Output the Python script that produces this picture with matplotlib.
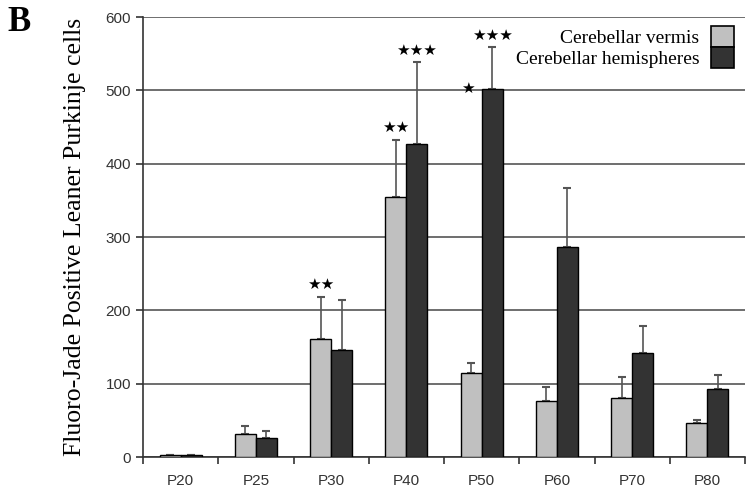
import matplotlib
matplotlib.use("Agg")
import matplotlib.pyplot as plt
from matplotlib.patches import Patch
import numpy as np

categories = ["P20", "P25", "P30", "P40", "P50", "P60", "P70", "P80"]
vermis = [3, 31, 161, 355, 115, 76, 80, 46]
vermis_err = [0, 11, 57, 77, 13, 19, 29, 4]
hemispheres = [3, 26, 146, 427, 502, 287, 142, 93]
hemispheres_err = [0, 9, 68, 112, 57, 80, 37, 19]
vermis_stars = [0, 0, 2, 2, 1, 0, 0, 0]
hemi_stars = [0, 0, 0, 3, 3, 0, 0, 0]

fig = plt.figure(figsize=(7.46, 4.96), dpi=100)
ax = fig.add_axes([0.1917, 0.0786, 0.8070, 0.8871])

x = np.arange(len(categories))
w = 0.28
light = "#c0c0c0"
dark = "#333333"

ax.set_axisbelow(True)
ax.yaxis.grid(True, color="#555555", linewidth=1.2)
ax.bar(x - w / 2, vermis, w, color=light, edgecolor="black", linewidth=1.0, zorder=3)
ax.bar(x + w / 2, hemispheres, w, color=dark, edgecolor="black", linewidth=1.0, zorder=3)
ax.errorbar(x - w / 2, vermis, yerr=[np.zeros(len(x)), vermis_err], fmt="none",
            ecolor="#555555", elinewidth=1.2, capsize=3, capthick=1.5, zorder=2)
ax.errorbar(x + w / 2, hemispheres, yerr=[np.zeros(len(x)), hemispheres_err], fmt="none",
            ecolor="#555555", elinewidth=1.2, capsize=3, capthick=1.5, zorder=2)

star_kw = dict(fontfamily="DejaVu Sans", fontsize=11, color="black", ha="center", va="center")
for i, n in enumerate(vermis_stars):
    if n == 1:
        ax.text(x[i] - w / 2 - 0.04, hemispheres[i], "\u2605", **star_kw)
    elif n > 1:
        ax.text(x[i] - w / 2, vermis[i] + vermis_err[i] + 17, "\u2605" * n, **star_kw)
for i, n in enumerate(hemi_stars):
    if n:
        ax.text(x[i] + w / 2, hemispheres[i] + hemispheres_err[i] + 16, "\u2605" * n, **star_kw)

ax.set_xlim(-0.5, len(categories) - 0.5)
ax.set_ylim(0, 600)
ax.set_yticks(range(0, 601, 100))
ax.set_xticks(x)
ax.set_xticklabels(categories)
ax.set_xticks(np.arange(-0.5, len(categories) - 0.4, 1), minor=True)
ax.tick_params(axis="x", which="major", length=0, pad=12)
ax.tick_params(axis="x", which="minor", length=5, width=1.2, color="#333333")
ax.tick_params(axis="y", length=5, width=1.2, color="#333333")
for lab in ax.get_xticklabels() + ax.get_yticklabels():
    lab.set_fontfamily("Liberation Sans")
    lab.set_fontsize(11)
    lab.set_color("#333333")

for sp in ["top", "right"]:
    ax.spines[sp].set_visible(False)
for sp in ["left", "bottom"]:
    ax.spines[sp].set_color("#333333")
    ax.spines[sp].set_linewidth(1.2)

ax.set_ylabel("Fluoro-Jade Positive Leaner Purkinje cells", fontfamily="Liberation Serif",
              fontsize=18.5, labelpad=14)

handles = [Patch(facecolor=light, edgecolor="black", linewidth=1.2),
           Patch(facecolor=dark, edgecolor="black", linewidth=1.2)]
ax.legend(handles, ["Cerebellar vermis", "Cerebellar hemispheres"], loc="upper right",
          bbox_to_anchor=(0.995, 0.998), frameon=False, markerfirst=False,
          prop={"family": "Liberation Serif", "size": 14}, handlelength=1.2,
          handleheight=1.3, labelspacing=0.0, handletextpad=0.6, borderaxespad=0.0)

fig.text(0.010, 0.955, "B", fontfamily="Liberation Serif", fontweight="bold", fontsize=25,
         va="center", ha="left")

fig.savefig("out.png", dpi=100)
